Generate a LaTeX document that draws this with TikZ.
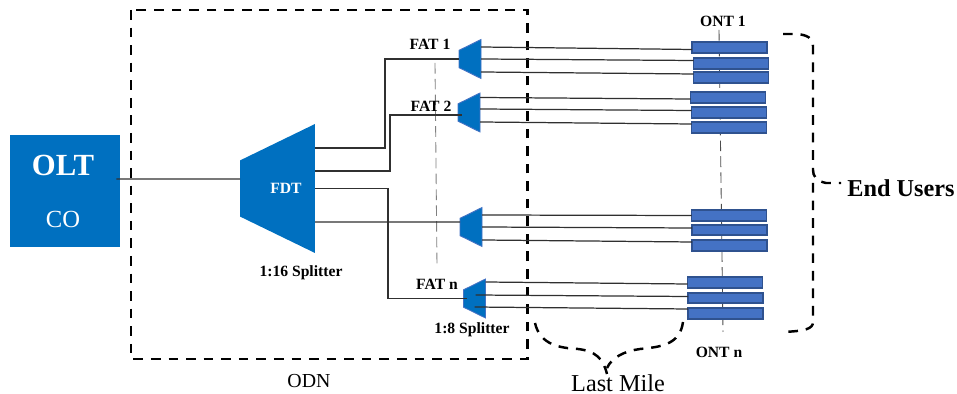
\documentclass[tikz,border=0pt]{standalone}
\usepackage{fontspec}
\setmainfont{Liberation Serif}
\usepackage{tikz}
\usetikzlibrary{shapes.geometric}
\definecolor{oltblue}{HTML}{0070C0}
\definecolor{ontblue}{HTML}{4472C4}
\definecolor{ontedge}{HTML}{2F528F}
\definecolor{fiber}{HTML}{303030}
\tikzset{
	oltbox/.style={fill=oltblue, minimum width=2.2cm, minimum height=2.24cm, inner sep=0pt},
	fdtbox/.style={trapezium, shape border rotate=90, trapezium stretches=true, trapezium angle=57, fill=oltblue, inner sep=1pt, outer sep=0pt, minimum width=2.58cm, minimum height=1.5cm},
	fatbox/.style={trapezium, shape border rotate=90, trapezium stretches=true, trapezium angle=58, fill=oltblue, draw=ontblue, line width=.5pt, inner sep=1pt, outer sep=0pt, minimum width=.78cm, minimum height=.44cm},
	ontbox/.style={fill=ontblue, draw=ontedge, line width=.9pt, inner sep=0pt, outer sep=0pt, minimum width=1.5cm, minimum height=.21cm},
	fiberline/.style={color=fiber, line width=.7pt},
	guideline/.style={color=gray, line width=.5pt, dash pattern=on 6pt off 3pt},
	bigdash/.style={line width=1.4pt, dash pattern=on 5.5pt off 4.5pt},
	smalllabel/.style={font=\fontsize{8.9}{10}\selectfont\bfseries}
}
\begin{document}
\begin{tikzpicture}[x=.02cm, y=-.02cm]
	\useasboundingbox (0,0) rectangle (957,394);
	% boundary of the distribution network
	\draw[bigdash] (131,10) rectangle (527.5,359);
	% guides behind the splitters and terminals
	\coordinate (fattop) at (435,63);
	\coordinate (fatbottom) at (437,266);
	\coordinate (onttop) at (719,30);
	\coordinate (ontbottom) at (723,332);
	\draw[guideline] (fattop) -- (fatbottom);
	\draw[guideline, color=black!70] (onttop) -- (ontbottom);
	% central office and first splitter
	\node[oltbox] (olt) at (65,191) {};
	\node[font=\fontsize{17.5}{20}\selectfont\bfseries, color=white] (oltname) at (63,165) {OLT};
	\node[font=\fontsize{14}{16}\selectfont, color=white] (coname) at (63,219) {CO};
	\node[fdtbox] (fdt) at (277.5,188.5) {};
	\node[smalllabel, color=white] (fdtname) at (286,188) {FDT};
	\node[smalllabel] (splitbig) at (301,273) {1:16 Splitter};
	% second splitters
	\node[fatbox] (fat1) at (470,59) {};
	\node[fatbox] (fat2) at (469,112.5) {};
	\node[fatbox] (fat3) at (471,227) {};
	\node[fatbox] (fat4) at (474.5,298.5) {};
	\node[smalllabel] (fat1name) at (430,44) {FAT 1};
	\node[smalllabel] (fat2name) at (431,106) {FAT 2};
	\node[smalllabel] (fat4name) at (437,284) {FAT n};
	\node[smalllabel] (splitsmall) at (472,330) {1:8 Splitter};
	% optical terminals
	\node[ontbox] (ont11) at (729.5,47.5) {};
	\node[ontbox] (ont12) at (731,63.5) {};
	\node[ontbox] (ont13) at (731,77.5) {};
	\node[ontbox] (ont21) at (728,97.5) {};
	\node[ontbox] (ont22) at (729,112.5) {};
	\node[ontbox] (ont23) at (729,127.5) {};
	\node[ontbox] (ont31) at (729,215.5) {};
	\node[ontbox] (ont32) at (729.5,230) {};
	\node[ontbox] (ont33) at (729.5,245.5) {};
	\node[ontbox] (ont41) at (725,282.5) {};
	\node[ontbox] (ont42) at (725.5,298) {};
	\node[ontbox] (ont43) at (725.5,313.5) {};
	\node[smalllabel] (ont1name) at (723,21) {ONT 1};
	\node[smalllabel] (ontnname) at (719,352) {ONT n};
	% feeder lines
	\draw[fiberline] ([xshift=-.08cm,yshift=.24cm]olt.east) -- ([yshift=.19cm]fdt.west);
	\draw[fiberline] ([yshift=.81cm]fdt.east) -- ++(70,0) |- (fat1.west);
	\draw[fiberline] ([yshift=.35cm]fdt.east) -- ++(75,0) |- ([xshift=.08cm,yshift=-.05cm]fat2.west);
	\draw[fiberline] (fdt.east) -- ++(73,0) |- ([xshift=.06cm]fat4.west);
	\draw[fiberline] ([yshift=-.67cm]fdt.east) -- ([yshift=.1cm]fat3.west);
	% distribution lines
	\draw[fiberline] ([yshift=.24cm]fat1.east) -- ([yshift=-.04cm]ont11.west);
	\draw[fiberline] (fat1.east) -- ([yshift=.06cm]ont12.west);
	\draw[fiberline] ([yshift=-.26cm]fat1.east) -- ([yshift=.07cm]ont13.west);
	\draw[fiberline] ([yshift=.3cm]fat2.east) -- ([yshift=-.03cm]ont21.west);
	\draw[fiberline] ([yshift=.07cm]fat2.east) -- ([yshift=.04cm]ont22.west);
	\draw[fiberline] ([yshift=-.19cm]fat2.east) -- ([yshift=.07cm]ont23.west);
	\draw[fiberline] ([yshift=.24cm]fat3.east) -- (ont31.west);
	\draw[fiberline] (fat3.east) -- ([yshift=.04cm]ont32.west);
	\draw[fiberline] ([yshift=-.26cm]fat3.east) -- ([yshift=.07cm]ont33.west);
	\draw[fiberline] ([yshift=.33cm]fat4.east) -- ([yshift=-.03cm]ont41.west);
	\draw[fiberline] ([xshift=-.2cm,yshift=.07cm]fat4.east) -- ([yshift=.03cm]ont42.west);
	\draw[fiberline] ([xshift=-.22cm,yshift=-.17cm]fat4.east) -- ([yshift=.09cm]ont43.west);
	% braces
	\draw[bigdash] (783,34) -- (797,34) .. controls (807,35) and (813,38) .. (813,46) -- (813,170) .. controls (813,176) and (816,181) .. (826,183) -- (841,183);
	\draw[bigdash] (813,183) -- (813,322) .. controls (813,329) and (805,331) .. (783,332);
	\draw[bigdash] (535,323) .. controls (540,345) and (560,348) .. (578,349) .. controls (595,351) and (603,358) .. (607,374);
	\draw[bigdash] (683,322) .. controls (680,345) and (660,347) .. (640,349) .. controls (625,351) and (612,357) .. (607,368);
	\node[font=\fontsize{13.8}{15}\selectfont\bfseries] (endusers) at (901,188) {End Users};
	\node[font=\fontsize{11.3}{13}\selectfont] (odnname) at (309,381) {ODN};
	\node[font=\fontsize{13.8}{15}\selectfont] (lastmile) at (618,383) {Last Mile};
\end{tikzpicture}
\end{document}
